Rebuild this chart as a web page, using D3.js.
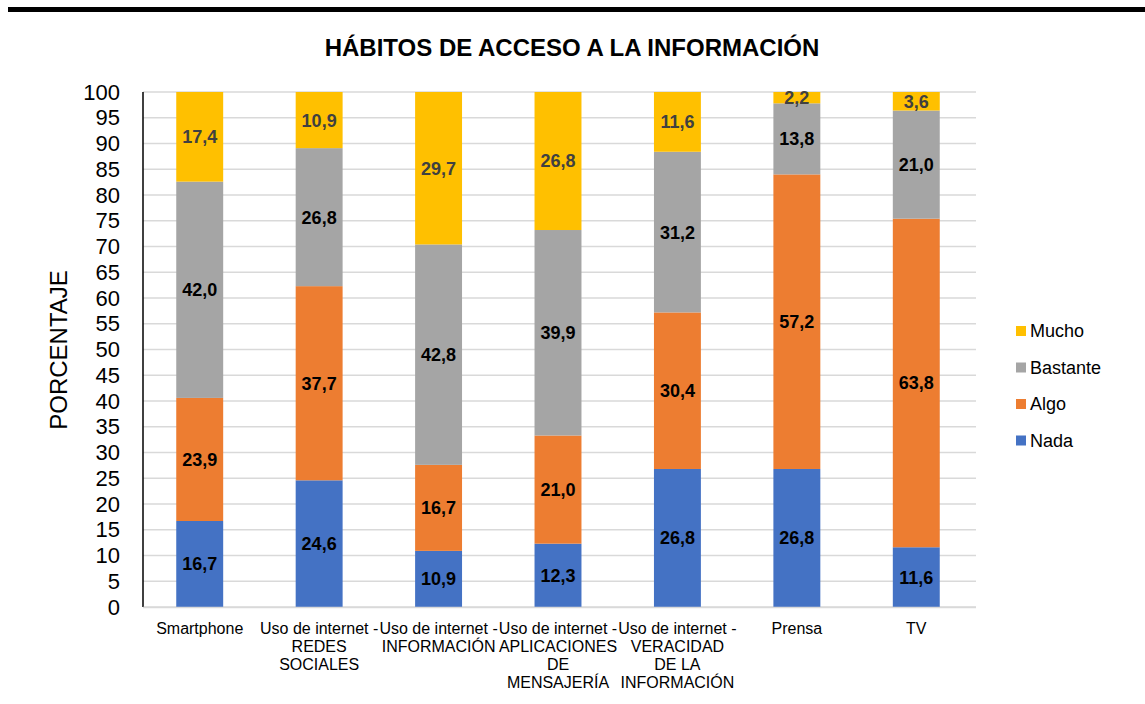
<!DOCTYPE html>
<html><head><meta charset="utf-8">
<script src="https://cdn.jsdelivr.net/npm/d3@7"></script>
<style>body{margin:0;background:#fff}svg{display:block;font-family:Arial,"Liberation Sans",sans-serif}</style>
</head><body><svg id="c" width="1145" height="704"></svg>
<script>
const categories = ["Smartphone","Uso de internet - REDES SOCIALES","Uso de internet - INFORMACIÓN","Uso de internet - APLICACIONES DE MENSAJERÍA","Uso de internet - VERACIDAD DE LA INFORMACIÓN","Prensa","TV"];
const categoryLines = [["Smartphone"],["Uso de internet -","REDES","SOCIALES"],["Uso de internet -","INFORMACIÓN"],["Uso de internet -","APLICACIONES","DE","MENSAJERÍA"],["Uso de internet -","VERACIDAD","DE LA","INFORMACIÓN"],["Prensa"],["TV"]];
const seriesNames = ["Nada","Algo","Bastante","Mucho"];
const nada = [16.7,24.6,10.9,12.3,26.8,26.8,11.6];
const algo = [23.9,37.7,16.7,21.0,30.4,57.2,63.8];
const bastante = [42.0,26.8,42.8,39.9,31.2,13.8,21.0];
const mucho = [17.4,10.9,29.7,26.8,11.6,2.2,3.6];
const yTicks = d3.range(0,101,5);
const colors = {Nada:"#4472C4",Algo:"#ED7D31",Bastante:"#A5A5A5",Mucho:"#FFC000"};
const labelColors = {Nada:"#000",Algo:"#000",Bastante:"#000",Mucho:"#404040"};

const svg = d3.select("#c");
const data = categories.map((c,i)=>({cat:c,Nada:nada[i],Algo:algo[i],Bastante:bastante[i],Mucho:mucho[i]}));
const stack = d3.stack().keys(seriesNames)(data);

const x = d3.scaleBand().domain(categories).range([140,976]).paddingInner(0.607).paddingOuter(0.3035);
const y = d3.scaleLinear().domain([0,100]).range([607,92]).clamp(true);

// top black bar
svg.append("rect").attr("x",8).attr("y",7).attr("width",1137).attr("height",5).attr("fill","#000");

// title
svg.append("text").attr("x",572).attr("y",56).attr("text-anchor","middle")
  .attr("font-size",24).attr("font-weight","bold").text("HÁBITOS DE ACCESO A LA INFORMACIÓN");

// grid
svg.append("g").selectAll("line").data(yTicks).join("line")
  .attr("x1",143).attr("x2",976).attr("y1",d=>y(d)).attr("y2",d=>y(d))
  .attr("stroke","#d9d9d9").attr("stroke-width",1.5);

// bars
const g = svg.append("g");
stack.forEach(s=>{
  g.append("g").attr("fill",colors[s.key]).selectAll("rect").data(s).join("rect")
    .attr("x",d=>x(d.data.cat)).attr("width",x.bandwidth())
    .attr("y",d=>y(d[1])).attr("height",d=>y(d[0])-y(d[1]));
  g.append("g").selectAll("text").data(s).join("text")
    .attr("x",d=>x(d.data.cat)+x.bandwidth()/2)
    .attr("y",d=>(y(d[0])+y(d[1]))/2)
    .attr("dy","0.36em").attr("text-anchor","middle")
    .attr("font-size",18).attr("font-weight","bold").attr("fill",labelColors[s.key])
    .text(d=>d3.format(".1f")(d[1]-d[0]).replace(".",","));
});

// y axis
const yAxis = d3.axisLeft(y).tickValues(yTicks).tickSize(0).tickPadding(0);
const ya = svg.append("g").attr("transform","translate(120,0)").call(yAxis);
ya.select(".domain").remove();
ya.selectAll("text").attr("font-size",22).attr("font-family","Arial,'Liberation Sans',sans-serif").attr("fill","#000");
svg.append("line").attr("x1",143).attr("x2",143).attr("y1",92).attr("y2",607).attr("stroke","#000").attr("stroke-width",1.5);

// x axis
const xAxis = d3.axisBottom(x).tickSize(0).tickFormat(()=> "");
const xa = svg.append("g").attr("transform","translate(0,607)").call(xAxis);
xa.select(".domain").attr("stroke","#d9d9d9").attr("stroke-width",1.5).attr("d","M143,0.5H976");
xa.selectAll(".tick").each(function(d,i){
  const t = d3.select(this).append("text").attr("fill","#000").attr("font-size",16)
    .attr("font-family","Arial,'Liberation Sans',sans-serif").attr("text-anchor","middle").attr("y",27);
  categoryLines[i].forEach((ln,k)=>t.append("tspan").attr("x",0).attr("dy",k===0?0:18).text(ln));
});

// y title
svg.append("text").attr("transform","translate(67,350) rotate(-90)").attr("text-anchor","middle")
  .attr("font-size",24).text("PORCENTAJE");

// legend
const legendOrder = ["Mucho","Bastante","Algo","Nada"];
const lg = svg.append("g").selectAll("g").data(legendOrder).join("g")
  .attr("transform",(d,i)=>`translate(1016,${331+i*36.5})`);
lg.append("rect").attr("x",0).attr("y",-5).attr("width",10).attr("height",10).attr("fill",d=>colors[d]);
lg.append("text").attr("x",14).attr("dy","0.36em").attr("font-size",18).text(d=>d);
</script></body></html>
